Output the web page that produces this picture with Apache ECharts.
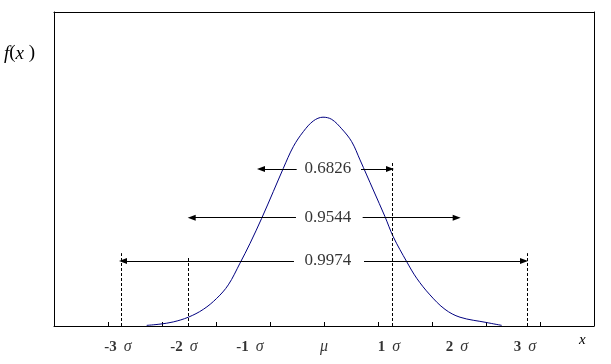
<!DOCTYPE html>
<html>
<head>
<meta charset="utf-8">
<script src="https://cdn.jsdelivr.net/npm/echarts@6/dist/echarts.min.js"></script>
<style>html,body{margin:0;padding:0;background:#fff;}#c{width:611px;height:364px;}</style>
</head>
<body>
<div id="c"></div>
<script>
// Curve points (x in tick units, y as fraction of plot height)
var curveX = [1.717, 1.963, 2.209, 2.487, 2.765, 3.013, 3.228, 3.444, 3.630, 3.846, 4.061, 4.246, 4.431, 4.617, 4.802, 4.981, 5.143, 5.328, 5.513, 5.667, 5.913, 6.130, 6.283, 6.531, 6.717, 6.963, 7.241, 7.519, 8.013, 8.291];
var curveY = [0.002, 0.006, 0.013, 0.028, 0.053, 0.088, 0.131, 0.200, 0.263, 0.343, 0.428, 0.502, 0.571, 0.619, 0.653, 0.665, 0.658, 0.628, 0.587, 0.529, 0.433, 0.348, 0.284, 0.205, 0.152, 0.099, 0.053, 0.028, 0.011, 0.002];

// Dashed verticals
var dashX = [1.241, 2.481, 6.269, 8.759];
var dashTop = [0.232, 0.218, 0.523, 0.232];

// Probability arrows
var arrowText = ['0.6826', '0.9544', '0.9974'];
var arrowY = [0.500, 0.345, 0.207];
var arrowLeftTip = [3.833, 2.550, 1.278];
var arrowLeftEnd = [4.494, 4.481, 4.444];
var arrowRightStart = [5.685, 5.716, 5.741];
var arrowRightTip = [6.222, 7.457, 8.704];
var arrowTextX = [5.074, 5.074, 5.074];

// Bottom tick labels
var tickLabelX = [1.185, 2.407, 3.630, 5.0, 6.204, 7.463, 8.722];
var tickLabelNum = ['-3', '-2', '-1', '', '1', '2', '3'];
var tickLabelSym = ['σ', 'σ', 'σ', 'μ', 'σ', 'σ', 'σ'];

var SERIF = '"Liberation Serif", "Times New Roman", serif';

var curveData = curveX.map(function (x, i) { return [x, curveY[i]]; });

var markLines = [];
dashX.forEach(function (x, i) {
  markLines.push([{ coord: [x, 0], symbol: 'none' }, { coord: [x, dashTop[i]], symbol: 'none',
    lineStyle: { type: [3, 2], color: '#000', width: 1 } }]);
});
arrowY.forEach(function (y, i) {
  markLines.push([{ coord: [arrowLeftTip[i], y], symbol: 'triangle' }, { coord: [arrowLeftEnd[i], y], symbol: 'none',
    lineStyle: { type: 'solid', color: '#000', width: 1 } }]);
  markLines.push([{ coord: [arrowRightStart[i], y], symbol: 'none' }, { coord: [arrowRightTip[i], y], symbol: 'triangle',
    lineStyle: { type: 'solid', color: '#000', width: 1 } }]);
});

var labelY = -0.066;
var tickLabelData = tickLabelX.map(function (x, i) { return { value: [x, labelY], idx: i }; });
var arrowTextData = arrowTextX.map(function (x, i) { return { value: [x, arrowY[i]], idx: i }; });

var axisBase = {
  type: 'value', min: 0, max: 10, interval: 1,
  axisLine: { show: true, lineStyle: { color: '#000', width: 1 } },
  axisLabel: { show: false },
  splitLine: { show: false }
};
var yBase = {
  type: 'value', min: 0, max: 1,
  axisLine: { show: true, onZero: false, lineStyle: { color: '#000', width: 1 } },
  axisTick: { show: false }, axisLabel: { show: false }, splitLine: { show: false }
};

var chart = echarts.init(document.getElementById('c'), null, { renderer: 'canvas' });
chart.setOption({
  animation: false,
  backgroundColor: '#fff',
  grid: { left: 54, right: 17, top: 12, bottom: 38, containLabel: false },
  xAxis: [
    Object.assign({}, axisBase, { position: 'bottom',
      axisTick: { show: true, inside: true, length: 4, lineStyle: { color: '#000', width: 1 } } }),
    Object.assign({}, axisBase, { position: 'top', axisTick: { show: false },
      axisLine: { show: true, onZero: false, lineStyle: { color: '#000', width: 1 } } })
  ],
  yAxis: [
    Object.assign({}, yBase, { position: 'left' }),
    Object.assign({}, yBase, { position: 'right' })
  ],
  graphic: [
    { type: 'text', left: 4, top: 44, style: {
        text: '{i|f}{n|(}{i|x}{n| )}',
        rich: {
          i: { fontFamily: SERIF, fontStyle: 'italic', fontSize: 19, fill: '#000' },
          n: { fontFamily: SERIF, fontSize: 19, fill: '#000' }
        }, fill: '#000' } },
    { type: 'text', left: 579, top: 333, style: { text: 'x', fontFamily: SERIF, fontStyle: 'italic', fontSize: 15, fill: '#000' } }
  ],
  series: [
    {
      type: 'line', data: curveData, smooth: 0.35, showSymbol: false, silent: true,
      lineStyle: { color: '#000080', width: 1 }, z: 3
    },
    {
      type: 'line', data: [], silent: true,
      markLine: {
        silent: true, animation: false,
        symbolSize: [6, 8],
        label: { show: false },
        itemStyle: { color: '#000' },
        lineStyle: { color: '#000', width: 1, type: 'solid' },
        emphasis: { disabled: true },
        data: markLines
      }
    },
    {
      type: 'scatter', data: arrowTextData, symbolSize: 0, silent: true, clip: false,
      label: {
        show: true, position: 'inside', color: '#000',
        fontFamily: SERIF, fontSize: 17,
        formatter: function (p) { return arrowText[p.data.idx]; }
      }
    },
    {
      type: 'scatter', data: tickLabelData, symbolSize: 0, silent: true, clip: false,
      label: {
        show: true, position: 'inside', color: '#000',
        formatter: function (p) {
          var n = tickLabelNum[p.data.idx];
          return (n ? '{b|' + n + '}{sp| }' : '') + '{s|' + tickLabelSym[p.data.idx] + '}';
        },
        rich: {
          b: { fontFamily: SERIF, fontWeight: 'bold', fontSize: 15, color: '#000' },
          sp: { fontFamily: SERIF, fontSize: 15, width: 7 },
          s: { fontFamily: SERIF, fontStyle: 'italic', fontSize: 16, color: '#000' }
        }
      }
    }
  ]
});
</script>
</body>
</html>
